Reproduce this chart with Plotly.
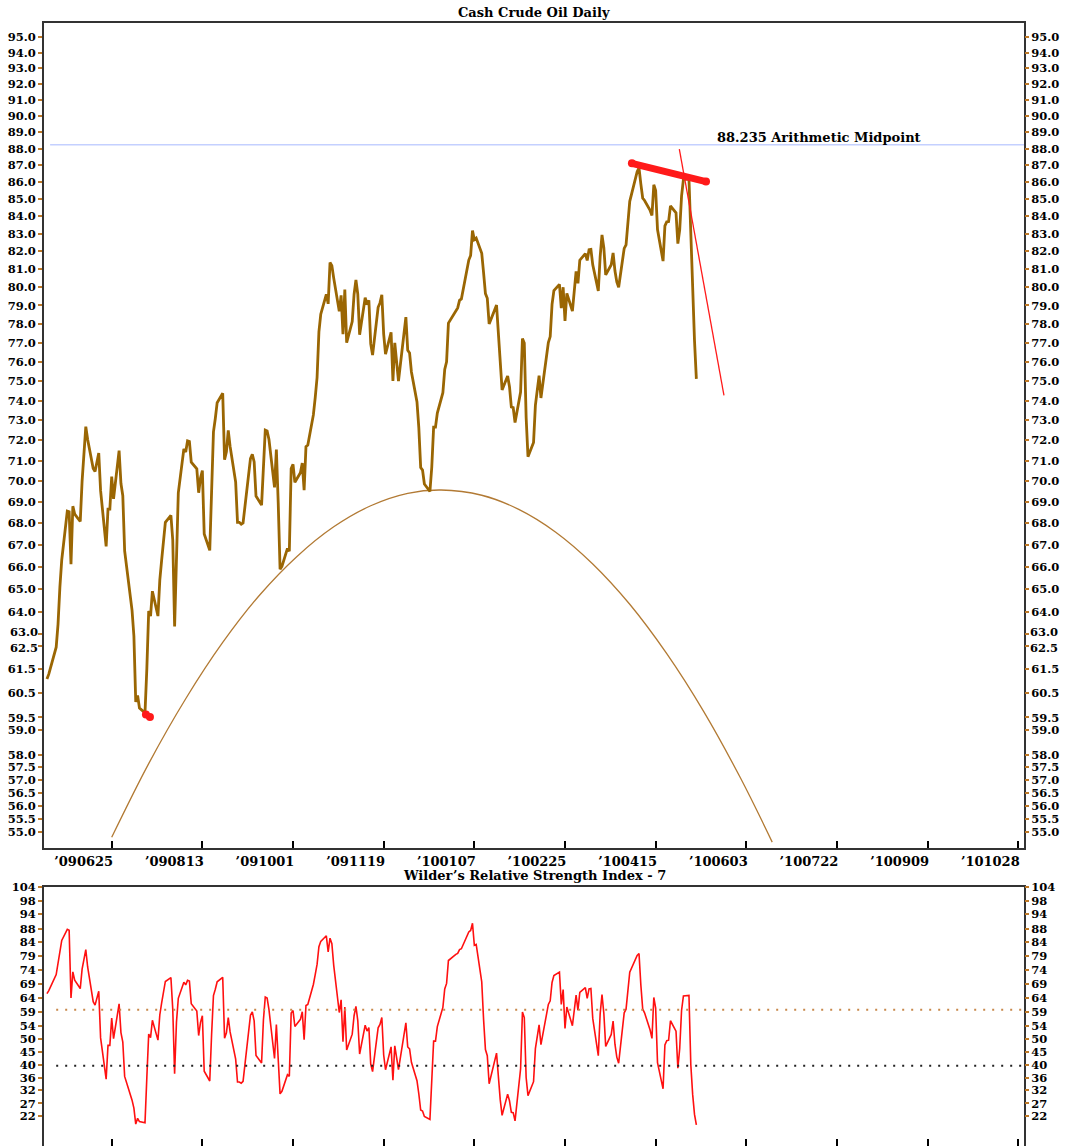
import math
import numpy as np
import plotly.graph_objects as go

# ---------------- data ----------------
trade_dates = (
    ["2009-05-%02d" % d for d in [21, 22, 26, 27, 28, 29]]
    + ["2009-06-%02d" % d for d in [1, 2, 3, 4, 5, 8, 9, 10, 11, 12, 15, 16, 17, 18, 19, 22, 23, 24, 25, 26, 29, 30]]
    + ["2009-07-%02d" % d for d in [1, 2, 6, 7, 8, 9, 10, 13, 14, 15, 16, 17, 20, 21, 22, 23, 24, 27, 28, 29, 30, 31]]
    + ["2009-08-%02d" % d for d in [3, 4, 5, 6, 7, 10, 11, 12, 13, 14, 17, 18, 19, 20, 21, 24, 25, 26, 27, 28, 31]]
    + ["2009-09-%02d" % d for d in [1, 2, 3, 4, 8, 9, 10, 11, 14, 15, 16, 17, 18, 21, 22, 23, 24, 25, 28, 29, 30]]
    + ["2009-10-%02d" % d for d in [1, 2, 5, 6, 7, 8, 9, 12, 13, 14, 15, 16, 19, 20, 21, 22, 23, 26, 27, 28, 29, 30]]
    + ["2009-11-%02d" % d for d in [2, 3, 4, 5, 6, 9, 10, 11, 12, 13, 16, 17, 18, 19, 20, 23, 24, 25, 27, 30]]
    + ["2009-12-%02d" % d for d in [1, 2, 3, 4, 7, 8, 9, 10, 11, 14, 15, 16, 17, 18, 21, 22, 23, 24, 28, 29, 30, 31]]
    + ["2010-01-%02d" % d for d in [4, 5, 6, 7, 8, 11, 12, 13, 14, 15, 19, 20, 21, 22, 25, 26, 27, 28, 29]]
    + ["2010-02-%02d" % d for d in [1, 2, 3, 4, 5, 8, 9, 10, 11, 12, 16, 17, 18, 19, 22, 23, 24, 25, 26]]
    + ["2010-03-%02d" % d for d in [1, 2, 3, 4, 5, 8, 9, 10, 11, 12, 15, 16, 17, 18, 19, 22, 23, 24, 25, 26, 29, 30, 31]]
    + ["2010-04-%02d" % d for d in [1, 5, 6, 7, 8, 9, 12, 13, 14, 15, 16, 19, 20, 21, 22, 23, 26, 27, 28, 29, 30]]
    + ["2010-05-%02d" % d for d in [3, 4, 5, 6, 7]]
)

close_prices = [
    61.10, 61.30, 62.45, 63.45, 65.08, 66.31,
    68.58, 68.55, 66.12, 68.81, 68.44, 68.09, 70.01, 71.33, 72.68, 72.04, 70.62, 70.47, 71.03, 71.37, 69.55,
    66.93, 68.67, 68.67, 70.23, 69.16, 71.49, 69.89,
    69.31, 66.73, 64.05, 62.93, 60.14, 60.41, 59.89, 59.69, 61.54, 64.02, 63.80, 64.90, 63.80, 65.40, 66.30,
    67.18, 68.05, 68.38, 67.23, 63.35, 66.94, 69.45,
    71.58, 71.42, 71.97, 71.94, 70.93, 70.60, 69.45, 70.16, 70.52, 67.51, 66.75, 69.19, 72.42, 73.09, 73.89,
    74.37, 71.05, 71.43, 72.49, 71.70, 69.96,
    68.05, 68.05, 67.96, 68.02, 71.10, 71.31, 70.94, 69.29, 68.86, 70.93, 72.51, 72.47, 72.04, 69.71, 71.55,
    68.97, 65.89, 66.02, 66.84, 66.71, 70.61,
    70.82, 69.95, 70.41, 70.88, 69.57, 71.69, 71.77, 73.27, 74.15, 75.18, 77.58, 78.53, 79.61, 79.09, 81.37,
    81.19, 80.50, 78.68, 79.55, 77.46, 79.87, 77.00,
    78.13, 79.60, 80.40, 79.62, 77.43, 79.43, 79.05, 79.28, 76.94, 76.35, 78.90, 79.14, 79.58, 77.46, 76.40,
    77.56, 75.00, 77.00, 75.00, 77.28,
    78.37, 76.60, 76.46, 75.47, 73.93, 72.62, 70.67, 70.54, 69.87, 69.51, 70.69, 72.66, 72.66, 73.36, 74.40,
    75.60, 76.00, 78.05, 78.77, 78.87, 79.28, 79.36,
    81.51, 81.77, 83.18, 82.66, 82.75, 81.89, 80.79, 79.65, 79.39, 78.00, 79.02, 77.62, 76.08, 74.54, 75.26,
    74.71, 73.67, 73.64, 72.89,
    74.43, 77.23, 76.98, 73.14, 71.19, 71.89, 73.75, 74.52, 75.28, 74.13, 77.01, 77.33, 79.06, 79.81, 80.16,
    78.86, 80.00, 78.17, 79.66,
    78.70, 79.68, 80.87, 80.21, 81.50, 81.87, 81.49, 82.09, 82.11, 81.24, 79.80, 81.70, 82.93, 82.20, 80.68,
    81.25, 81.91, 80.91, 80.29, 80.00, 82.17, 82.37, 83.76,
    84.87, 86.62, 86.84, 85.88, 85.05, 84.92, 84.34, 84.05, 85.84, 85.51, 83.24, 81.45, 83.45, 83.68, 83.70,
    84.60, 84.20, 82.44, 83.22, 85.17, 86.15,
    86.19, 82.74, 79.97, 77.11, 75.11,
]

# closes before the visible window, used only to seed the 7-day RSI
warmup_prices = [55.0, 56.5, 55.6, 57.0, 56.1, 57.9, 57.1, 58.8, 57.9, 59.8, 59.1, 60.9, 60.3, 61.9, 61.3]
rsi_period = 7

# parabolic arc
arc_dates = ["2009-06-25", "2009-07-15", "2009-08-04", "2009-08-24", "2009-09-13", "2009-10-03",
             "2009-10-23", "2009-11-12", "2009-12-02", "2009-12-20", "2010-01-11", "2010-01-31",
             "2010-02-20", "2010-03-12", "2010-04-01", "2010-04-21", "2010-05-11", "2010-05-31",
             "2010-06-17"]
arc_values = [54.79, 57.64, 60.27, 62.65, 64.73, 66.46, 67.84, 68.83, 69.42, 69.58, 69.33, 68.66,
              67.59, 66.13, 64.32, 62.17, 59.74, 57.05, 54.61]

midpoint_value = 88.235
midpoint_dates = ["2009-05-22 17:00", "2010-10-31 02:00"]
midpoint_label = "88.235 Arithmetic Midpoint"

low_marker_dates = ["2009-07-13 12:00", "2009-07-15 16:00"]
low_marker_values = [59.62, 59.52]

resistance_dates = ["2010-04-02 04:00", "2010-05-12 05:00"]
resistance_values = [87.12, 86.03]

breakdown_dates = ["2010-04-27 19:00", "2010-05-21 22:00"]
breakdown_values = [87.98, 74.26]

x_range = ["2009-05-19 09:50", "2010-10-31 02:00"]
xtick_dates = ["2009-06-25", "2009-08-13", "2009-10-01", "2009-11-19", "2010-01-07", "2010-02-25",
               "2010-04-15", "2010-06-03", "2010-07-22", "2010-09-09", "2010-10-28"]
xtick_labels = ["\u2019090625", "\u2019090813", "\u2019091001", "\u2019091119", "\u2019100107",
                "\u2019100225", "\u2019100415", "\u2019100603", "\u2019100722", "\u2019100909",
                "\u2019101028"]

price_ticks = [95.0, 94.0, 93.0, 92.0, 91.0, 90.0, 89.0, 88.0, 87.0, 86.0, 85.0, 84.0, 83.0, 82.0, 81.0,
               80.0, 79.0, 78.0, 77.0, 76.0, 75.0, 74.0, 73.0, 72.0, 71.0, 70.0, 69.0, 68.0, 67.0, 66.0,
               65.0, 64.0, 63.0, 62.5, 61.5, 60.5, 59.5, 59.0, 58.0, 57.5, 57.0, 56.5, 56.0, 55.5, 55.0]
price_range = [54.40, 95.95]
# two crowded labels drawn separately, pushed apart a couple of pixels
crowded_ticks = [63.0, 62.5]
crowded_shift_px = [2, -2]

# RSI axis: printed labels and where the chart places them (roughly evenly spaced)
rsi_tick_labels = ["104", "98", "94", "88", "84", "79", "74", "69", "64", "59", "54", "50", "45", "40",
                   "36", "32", "27", "22"]
rsi_tick_positions = [104.0, 98.9, 94.1, 88.9, 84.1, 79.2, 74.2, 69.2, 64.3, 59.3, 54.3, 49.5, 44.8,
                      40.2, 35.7, 31.3, 26.5, 22.0]
rsi_range = [11.3, 104]
rsi_upper_level = 60
rsi_lower_level = 40
rsi_level_dates = ["2009-05-26", "2010-10-31 02:00"]

title_main = "Cash Crude Oil Daily"
title_rsi = "Wilder\u2019s Relative Strength Index - 7"


# ---------------- indicator ----------------
def wilder_rsi(values, n):
    v = np.asarray(values, dtype=float)
    ch = np.diff(v)
    gains = np.clip(ch, 0, None)
    losses = np.clip(-ch, 0, None)
    out = np.full(len(v), np.nan)
    ag = gains[:n].mean()
    al = losses[:n].mean()
    out[n] = 100.0 if al == 0 else 100 - 100 / (1 + ag / al)
    for i in range(n, len(ch)):
        ag = (ag * (n - 1) + gains[i]) / n
        al = (al * (n - 1) + losses[i]) / n
        out[i + 1] = 100.0 if al == 0 else 100 - 100 / (1 + ag / al)
    return out


rsi_all = wilder_rsi(warmup_prices + close_prices, rsi_period)
rsi_values = list(rsi_all[len(warmup_prices):])

# ---------------- figure ----------------
W, H = 1065, 1146
M_L, M_R, M_T, M_B = 44, 41, 23, 0
plot_h = H - M_T - M_B
top_dom = [(H - 847.7) / plot_h, 1.0]
bot_dom = [0.0, (H - 886.7) / plot_h]

FONT = "DejaVu Serif"
tfont = dict(family=FONT, size=11.5, color="black", weight="bold")
xfont = dict(family=FONT, size=13, color="black", weight="bold")
BORDER = "#333333"
TICKC = "#c07a28"
PRICE_C = "#9a6603"
ARC_C = "#b27a34"
RED = "#ff1a1a"

fig = go.Figure()

fig.add_trace(go.Scatter(x=arc_dates, y=arc_values, mode="lines",
                         line=dict(color=ARC_C, width=1.3, shape="spline", smoothing=1.0),
                         xaxis="x", yaxis="y", hoverinfo="skip", showlegend=False))
fig.add_trace(go.Scatter(x=midpoint_dates, y=[midpoint_value, midpoint_value], mode="lines",
                         line=dict(color="#c4d0ff", width=1.5),
                         xaxis="x", yaxis="y3", hoverinfo="skip", showlegend=False))
fig.add_trace(go.Scatter(x=trade_dates, y=close_prices, mode="lines",
                         line=dict(color=PRICE_C, width=2.8),
                         xaxis="x", yaxis="y", showlegend=False))
fig.add_trace(go.Scatter(x=low_marker_dates, y=low_marker_values, mode="lines+markers",
                         line=dict(color=RED, width=6), marker=dict(color=RED, size=8),
                         xaxis="x", yaxis="y", hoverinfo="skip", showlegend=False))
fig.add_trace(go.Scatter(x=resistance_dates, y=resistance_values, mode="lines+markers",
                         line=dict(color=RED, width=7), marker=dict(color=RED, size=8),
                         xaxis="x", yaxis="y", hoverinfo="skip", showlegend=False))
fig.add_trace(go.Scatter(x=breakdown_dates, y=breakdown_values, mode="lines",
                         line=dict(color=RED, width=1.3),
                         xaxis="x", yaxis="y", hoverinfo="skip", showlegend=False))

# RSI panel
fig.add_trace(go.Scatter(x=rsi_level_dates, y=[rsi_upper_level] * 2, mode="lines",
                         line=dict(color="#c8884a", width=2, dash="2px,7px"),
                         xaxis="x2", yaxis="y4", hoverinfo="skip", showlegend=False))
fig.add_trace(go.Scatter(x=rsi_level_dates, y=[rsi_lower_level] * 2, mode="lines",
                         line=dict(color="#222222", width=2, dash="2px,7px"),
                         xaxis="x2", yaxis="y4", hoverinfo="skip", showlegend=False))
fig.add_trace(go.Scatter(x=trade_dates, y=rsi_values, mode="lines",
                         line=dict(color="#ff1010", width=1.6),
                         xaxis="x2", yaxis="y2", showlegend=False))

price_text = ["" if v in crowded_ticks else "%.1f" % v for v in price_ticks]

common_x = dict(type="date", range=x_range, tickvals=xtick_dates, showgrid=False, zeroline=False,
                showline=True, linecolor=BORDER, linewidth=2, mirror=True,
                ticks="inside", ticklen=7, tickwidth=1.5, tickcolor="black")
common_y = dict(showgrid=False, zeroline=False, ticks="outside", ticklen=4, tickwidth=1.5,
                tickcolor=TICKC, tickfont=tfont)

annotations = [
    dict(text=title_main, xref="paper", yref="paper", x=0.5, y=1, yanchor="middle", yshift=11,
         showarrow=False, font=xfont),
    dict(text=title_rsi, xref="paper", yref="paper", x=0.5, y=bot_dom[1], yanchor="middle",
         yshift=11, showarrow=False, font=xfont),
    dict(text=midpoint_label, xref="x", yref="y", x="2010-05-17", y=math.log10(midpoint_value),
         xanchor="left", yanchor="bottom", yshift=-2, showarrow=False, font=xfont),
]
for v, s in zip(crowded_ticks, crowded_shift_px):
    for side_x, anchor, xs in ((0, "right", -5), (1, "left", 5)):
        annotations.append(dict(text="%.1f" % v, xref="paper", yref="y", x=side_x, y=math.log10(v),
                                xanchor=anchor, yanchor="middle", xshift=xs, yshift=s,
                                showarrow=False, font=tfont, borderpad=0))

fig.update_layout(
    width=W, height=H,
    margin=dict(l=M_L, r=M_R, t=M_T, b=M_B),
    paper_bgcolor="white", plot_bgcolor="white",
    showlegend=False,
    xaxis=dict(common_x, domain=[0, 1], anchor="y", ticktext=xtick_labels, tickfont=xfont,
               ticklabelshift=-28, ticklabelstandoff=1),
    yaxis=dict(common_y, type="log", domain=top_dom, anchor="x",
               range=[math.log10(price_range[0]), math.log10(price_range[1])],
               tickvals=price_ticks, ticktext=price_text,
               showline=True, linecolor=BORDER, linewidth=2, mirror=True),
    yaxis3=dict(common_y, type="log", overlaying="y", side="right", anchor="x", matches="y",
                range=[math.log10(price_range[0]), math.log10(price_range[1])],
                tickvals=price_ticks, ticktext=price_text, showline=False),
    xaxis2=dict(common_x, domain=[0, 1], anchor="y2", matches="x", showticklabels=False),
    yaxis2=dict(common_y, domain=bot_dom, anchor="x2", range=rsi_range,
                tickvals=rsi_tick_positions, ticktext=rsi_tick_labels,
                showline=True, linecolor=BORDER, linewidth=2, mirror=True),
    yaxis4=dict(common_y, overlaying="y2", side="right", anchor="x2", matches="y2", range=rsi_range,
                tickvals=rsi_tick_positions, ticktext=rsi_tick_labels, showline=False),
    annotations=annotations,
)

fig.write_html("out.html")
